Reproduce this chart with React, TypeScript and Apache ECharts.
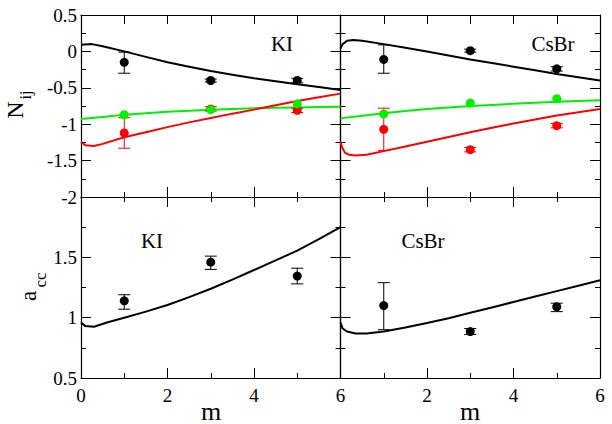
import React, { useEffect, useRef } from "react";
import * as echarts from "echarts";

// ---- Theory curves (m values and fitted values) ----
const kiNBlackX = [0, 0.25, 0.5, 1, 1.5, 2, 2.5, 3, 3.5, 4, 4.5, 5, 5.5, 6];
const kiNBlackY = [0.09, 0.1, 0.07, 0.0, -0.075, -0.15, -0.21, -0.27, -0.32, -0.37, -0.41, -0.45, -0.49, -0.53];
const kiNGreenX = [0, 0.5, 1, 1.5, 2, 2.5, 3, 3.5, 4, 4.5, 5, 5.5, 6];
const kiNGreenY = [-0.93, -0.9, -0.87, -0.85, -0.83, -0.815, -0.8, -0.79, -0.78, -0.775, -0.77, -0.765, -0.76];
const kiNRedX = [0, 0.1, 0.3, 0.5, 1, 1.5, 2, 2.5, 3, 3.5, 4, 4.5, 5, 5.5, 6];
const kiNRedY = [-1.24, -1.29, -1.3, -1.27, -1.18, -1.11, -1.04, -0.975, -0.915, -0.855, -0.8, -0.74, -0.68, -0.63, -0.58];

const csNBlackX = [0, 0.05, 0.15, 0.3, 0.5, 1, 1.5, 2, 2.5, 3, 3.5, 4, 4.5, 5, 5.5, 6];
const csNBlackY = [0.04, 0.1, 0.145, 0.155, 0.145, 0.1, 0.05, 0.0, -0.055, -0.11, -0.16, -0.21, -0.26, -0.31, -0.355, -0.4];
const csNGreenX = [0, 0.5, 1, 1.5, 2, 2.5, 3, 3.5, 4, 4.5, 5, 5.5, 6];
const csNGreenY = [-0.92, -0.885, -0.85, -0.82, -0.79, -0.77, -0.75, -0.735, -0.72, -0.705, -0.69, -0.68, -0.67];
const csNRedX = [0, 0.04, 0.1, 0.2, 0.35, 0.6, 1, 1.5, 2, 2.5, 3, 3.5, 4, 4.5, 5, 5.5, 6];
const csNRedY = [-1.24, -1.32, -1.39, -1.42, -1.43, -1.42, -1.37, -1.305, -1.24, -1.175, -1.11, -1.05, -0.99, -0.935, -0.88, -0.835, -0.79];

const kiAccX = [0, 0.1, 0.3, 0.6, 1, 1.5, 2, 2.5, 3, 3.5, 4, 4.5, 5, 5.5, 6];
const kiAccY = [0.96, 0.93, 0.925, 0.96, 1.0, 1.05, 1.105, 1.17, 1.24, 1.315, 1.395, 1.475, 1.555, 1.65, 1.75];
const csAccX = [0, 0.05, 0.15, 0.35, 0.6, 1, 1.5, 2, 2.5, 3, 3.5, 4, 4.5, 5, 5.5, 6];
const csAccY = [0.96, 0.91, 0.885, 0.868, 0.868, 0.885, 0.918, 0.955, 0.995, 1.04, 1.085, 1.13, 1.175, 1.22, 1.265, 1.31];

// ---- Simulation points with error bars ----
const expM = [1, 3, 5];

const kiNBlack = [-0.15, -0.4, -0.4];
const kiNBlackLo = [-0.3, -0.42, -0.43];
const kiNBlackHi = [-0.01, -0.38, -0.37];
const kiNRed = [-1.12, -0.79, -0.81];
const kiNRedLo = [-1.33, -0.82, -0.84];
const kiNRedHi = [-0.91, -0.76, -0.78];
const kiNGreen = [-0.87, -0.8, -0.72];

const csNBlack = [-0.11, 0.01, -0.24];
const csNBlackLo = [-0.3, -0.01, -0.27];
const csNBlackHi = [0.09, 0.03, -0.21];
const csNRed = [-1.07, -1.35, -1.02];
const csNRedLo = [-1.36, -1.38, -1.05];
const csNRedHi = [-0.78, -1.32, -0.99];
const csNGreen = [-0.86, -0.71, -0.65];

const kiAcc = [1.14, 1.46, 1.345];
const kiAccLo = [1.07, 1.4, 1.28];
const kiAccHi = [1.19, 1.51, 1.41];
const csAcc = [1.1, 0.885, 1.09];
const csAccLo = [0.9, 0.86, 1.05];
const csAccHi = [1.29, 0.91, 1.12];

const BLACK = "#000000";
const RED = "#ff0000";
const GREEN = "#00f000";
const FONT = "Liberation Serif";

const zip = (xs: number[], ys: number[]) => xs.map((x, i) => [x, ys[i]]);

function lineSeries(g: number, xs: number[], ys: number[], color: string) {
  return {
    type: "line",
    xAxisIndex: 2 * g,
    yAxisIndex: 2 * g,
    data: zip(xs, ys),
    symbol: "none",
    smooth: false,
    lineStyle: { color, width: 2 },
    z: 2,
  };
}

function pointSeries(g: number, ys: number[], color: string, z = 4) {
  return {
    type: "scatter",
    xAxisIndex: 2 * g,
    yAxisIndex: 2 * g,
    data: zip(expM, ys),
    symbol: "circle",
    symbolSize: 9,
    itemStyle: { color, opacity: 1 },
    z,
  };
}

function errSeries(g: number, lo: number[], hi: number[], color: string) {
  return {
    type: "custom",
    xAxisIndex: 2 * g,
    yAxisIndex: 2 * g,
    data: expM.map((m, i) => [m, lo[i], hi[i]]),
    encode: { x: 0, y: [1, 2] },
    z: 3,
    renderItem: (params: any, api: any) => {
      const x = api.value(0);
      const a = api.coord([x, api.value(2)]);
      const b = api.coord([x, api.value(1)]);
      const w = 6;
      const st = { stroke: color, lineWidth: 1 };
      return {
        type: "group",
        children: [
          { type: "line", shape: { x1: a[0], y1: a[1], x2: b[0], y2: b[1] }, style: st },
          { type: "line", shape: { x1: a[0] - w, y1: a[1], x2: a[0] + w, y2: a[1] }, style: st },
          { type: "line", shape: { x1: b[0] - w, y1: b[1], x2: b[0] + w, y2: b[1] }, style: st },
        ],
      };
    },
  };
}

const axisLine = { show: true, onZero: false, lineStyle: { color: BLACK, width: 1.2 } };
const tick = { show: true, inside: true, length: 10, lineStyle: { color: BLACK, width: 1 } };
const minor = { show: true, splitNumber: 2, length: 5, lineStyle: { color: BLACK, width: 1 } };
const labelStyle = { color: BLACK, fontFamily: FONT, fontSize: 19 };

function xAxes(g: number, showLabels: boolean, hideMin: boolean, topPanel: boolean) {
  return [
    {
      type: "value",
      gridIndex: g,
      position: "bottom",
      min: 0,
      max: 6,
      interval: 2,
      axisLine,
      axisTick: tick,
      minorTick: minor,
      splitLine: { show: false },
      axisLabel: {
        show: showLabels,
        ...labelStyle,
        margin: 8,
        showMinLabel: !hideMin,
      },
    },
    {
      type: "value",
      gridIndex: g,
      position: "top",
      min: 0,
      max: 6,
      interval: topPanel ? 1 : 2,
      axisLine,
      axisTick: topPanel ? { ...tick, length: 9 } : tick,
      minorTick: topPanel ? { show: false } : minor,
      splitLine: { show: false },
      axisLabel: { show: false },
    },
  ];
}

function yAxes(g: number, min: number, max: number, showLabels: boolean, hideMax: boolean) {
  return [
    {
      type: "value",
      gridIndex: g,
      position: "left",
      min,
      max,
      interval: 0.5,
      axisLine,
      axisTick: tick,
      minorTick: minor,
      splitLine: { show: false },
      axisLabel: {
        show: showLabels,
        ...labelStyle,
        margin: 4,
        showMaxLabel: !hideMax,
      },
    },
    {
      type: "value",
      gridIndex: g,
      position: "right",
      min,
      max,
      interval: 0.5,
      axisLine,
      axisTick: tick,
      minorTick: minor,
      splitLine: { show: false },
      axisLabel: { show: false },
    },
  ];
}

function txt(text: string, x: number, y: number, size: number, rot = 0) {
  return {
    type: "text",
    x,
    y,
    rotation: rot,
    z: 10,
    style: {
      text,
      font: `${size}px ${FONT}`,
      fontFamily: FONT,
      fontSize: size,
      fill: BLACK,
      align: "center",
      verticalAlign: "middle",
      textAlign: "center",
      textVerticalAlign: "middle",
    },
  };
}

export default function App() {
  const ref = useRef<HTMLDivElement>(null);
  useEffect(() => {
    if (!ref.current) return;
    const chart = echarts.init(ref.current, undefined, { renderer: "svg" });
    const L = 81, M = 340.5, R = 600, T = 15, C = 197, B = 378;
    const option: any = {
      animation: false,
      backgroundColor: "#ffffff",
      textStyle: { fontFamily: FONT },
      grid: [
        { left: L, top: T, width: M - L, height: C - T },
        { left: M, top: T, width: R - M, height: C - T },
        { left: L, top: C, width: M - L, height: B - C },
        { left: M, top: C, width: R - M, height: B - C },
      ],
      xAxis: [
        ...xAxes(0, false, false, true),
        ...xAxes(1, false, false, true),
        ...xAxes(2, true, false, false),
        ...xAxes(3, true, true, false),
      ],
      yAxis: [
        ...yAxes(0, -2, 0.5, true, false),
        ...yAxes(1, -2, 0.5, false, false),
        ...yAxes(2, 0.5, 2, true, true),
        ...yAxes(3, 0.5, 2, false, false),
      ],
      series: [
        // KI N_ij
        lineSeries(0, kiNBlackX, kiNBlackY, BLACK),
        lineSeries(0, kiNGreenX, kiNGreenY, GREEN),
        lineSeries(0, kiNRedX, kiNRedY, RED),
        errSeries(0, kiNBlackLo, kiNBlackHi, BLACK),
        errSeries(0, kiNRedLo, kiNRedHi, RED),
        pointSeries(0, kiNBlack, BLACK),
        pointSeries(0, kiNRed, RED, 4),
        pointSeries(0, kiNGreen, GREEN, 5),
        // CsBr N_ij
        lineSeries(1, csNBlackX, csNBlackY, BLACK),
        lineSeries(1, csNGreenX, csNGreenY, GREEN),
        lineSeries(1, csNRedX, csNRedY, RED),
        errSeries(1, csNBlackLo, csNBlackHi, BLACK),
        errSeries(1, csNRedLo, csNRedHi, RED),
        pointSeries(1, csNBlack, BLACK),
        pointSeries(1, csNRed, RED, 4),
        pointSeries(1, csNGreen, GREEN, 5),
        // KI a_cc
        lineSeries(2, kiAccX, kiAccY, BLACK),
        errSeries(2, kiAccLo, kiAccHi, BLACK),
        pointSeries(2, kiAcc, BLACK),
        // CsBr a_cc
        lineSeries(3, csAccX, csAccY, BLACK),
        errSeries(3, csAccLo, csAccHi, BLACK),
        pointSeries(3, csAcc, BLACK),
      ],
      graphic: [
        txt("KI", 282, 44, 21),
        txt("CsBr", 553, 44, 21),
        txt("KI", 152, 241, 21),
        txt("CsBr", 423, 241, 21),
        txt("N", 15, 110, 24, Math.PI / 2),
        txt("ij", 25, 95, 16, Math.PI / 2),
        txt("a", 28, 296, 23, Math.PI / 2),
        txt("cc", 40, 280, 17, Math.PI / 2),
        txt("m", 211, 411, 26),
        txt("m", 470, 411, 26),
      ],
    };
    chart.setOption(option);
    return () => chart.dispose();
  }, []);
  return (
    <div
      ref={ref}
      style={{ position: "fixed", left: 0, top: 0, width: 612, height: 424, background: "#fff" }}
    />
  );
}
